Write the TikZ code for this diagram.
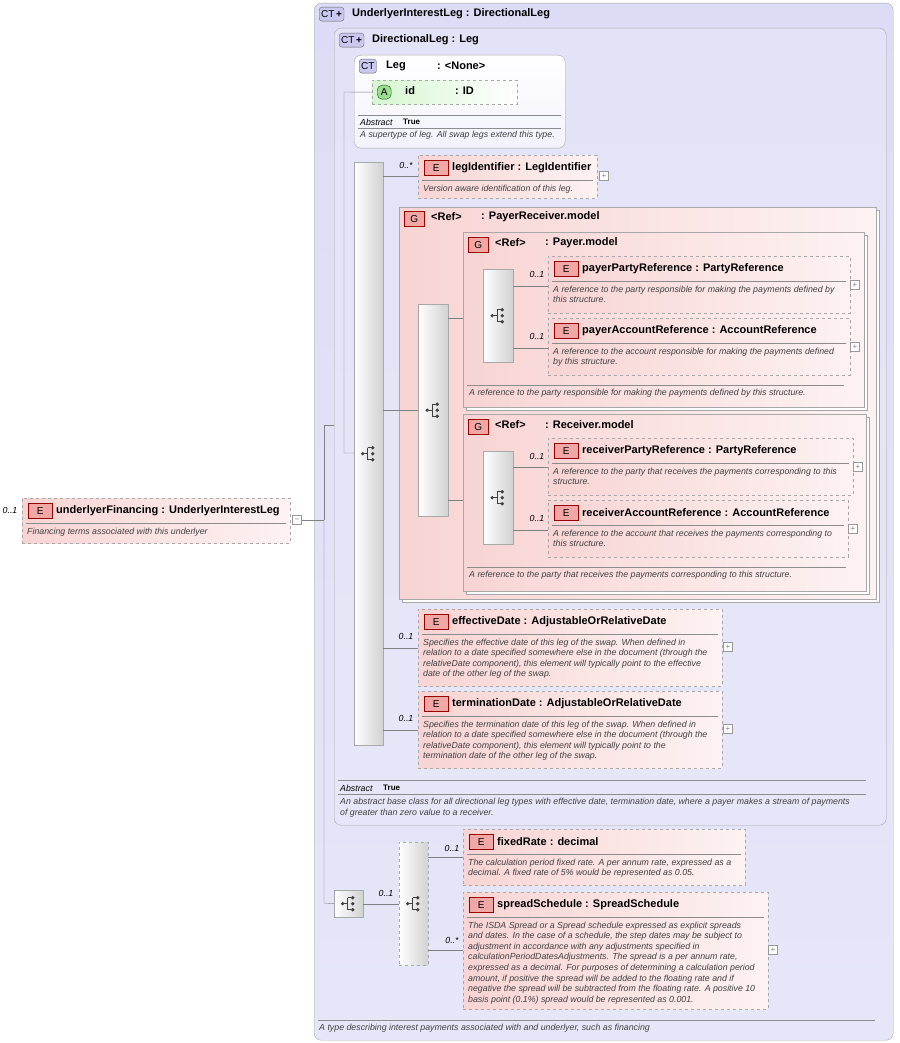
\documentclass[tikz,border=0pt]{standalone}
\usepackage{fontspec}
\setmainfont{Liberation Sans}
\usepackage{xcolor}
\usetikzlibrary{positioning}
\definecolor{ctfill}{HTML}{DCDCF6}
\definecolor{ctfillb}{HTML}{F2F2FC}
\definecolor{elfill}{HTML}{F8D4D4}
\definecolor{elfillb}{HTML}{FDF2F2}
\definecolor{badgered}{HTML}{F2A7A7}
\definecolor{frame}{HTML}{A8A8A8}
\definecolor{attfill}{HTML}{D6F6D0}
\definecolor{badgegreen}{HTML}{9EDC94}
\definecolor{ctbadge}{HTML}{C8C8F0}

% element box: name, x, y, width, height, title, description
\newcommand\elem[7]{%
  \node[ebox, minimum width=#4, minimum height=#5] (#1) at (#2,#3) {};
  \node[ebadge] at ([xshift=6pt,yshift=-5pt]#1.north west) {E};
  \node[etitle] at ([xshift=34pt,yshift=-13pt]#1.north west) {#6};
  \draw[sep] ([xshift=4pt,yshift=-25pt]#1.north west) -- ([xshift=-4pt,yshift=-25pt]#1.north east);
  \node[edesc] at ([xshift=5pt,yshift=-29.5pt]#1.north west) {#7};
}
% sequence icon
\newcommand\seqico[1]{%
  \fill[black!75] ([xshift=-6pt]#1) circle (1.8pt);
  \draw[black!75, line width=0.9pt] ([xshift=-6pt]#1) -- ([xshift=-1pt]#1)
    ([xshift=-1pt,yshift=6pt]#1) -- ([xshift=-1pt,yshift=-6pt]#1)
    ([xshift=-1pt,yshift=6pt]#1) -- ([xshift=3pt,yshift=6pt]#1)
    ([xshift=-1pt,yshift=-6pt]#1) -- ([xshift=3pt,yshift=-6pt]#1);
  \foreach \dy in {-6,0,6} \fill[black!75] ([xshift=4pt,yshift=\dy pt]#1) circle (1.9pt);
}
% plus/minus box
\newcommand\pmark[2]{\node[pmbox] at (#1) {#2};}

\begin{document}
\begin{tikzpicture}[x=1pt, y=-1pt,
    ctbox/.style={draw=frame, rounded corners=7pt, top color=ctfill, bottom color=ctfill!70!white,
        anchor=north west, inner sep=0pt},
    ebox/.style={draw=frame, dashed, left color=elfill, right color=elfillb, anchor=north west, inner sep=0pt},
    gbox/.style={draw=frame, left color=elfill, right color=elfillb, anchor=north west, inner sep=0pt},
    bar/.style={draw=frame, left color=white, right color=black!18, anchor=north west, inner sep=0pt},
    ebadge/.style={draw=red!60!black, fill=badgered, anchor=north west, minimum width=24pt,
        minimum height=15pt, inner sep=0pt, font=\fontsize{10}{10}\selectfont},
    gbadge/.style={ebadge, minimum width=20pt},
    ctbadgest/.style={draw=black!60, fill=ctbadge, rounded corners=3pt, anchor=north west, minimum height=14pt,
        inner sep=2pt, font=\fontsize{10}{10}\selectfont},
    etitle/.style={anchor=west, inner sep=0pt, font=\fontsize{11}{12}\selectfont\bfseries},
    edesc/.style={anchor=north west, inner sep=0pt, align=left, text=black!75,
        font=\fontsize{8.8}{10.6}\selectfont\itshape},
    sep/.style={draw=black!45, solid},
    card/.style={inner sep=0pt, font=\fontsize{8.8}{9}\selectfont\itshape},
    pmbox/.style={draw=black!40, fill=white, minimum size=9pt, inner sep=0pt, font=\fontsize{8}{8}\selectfont, text=black!50},
    link/.style={draw=black!50}
  ]
\useasboundingbox (0,0) rectangle (899,1043);

% UnderlyerInterestLeg
\node[ctbox, minimum width=579pt, minimum height=1037pt] (uil) at (314,3) {};
\node[ctbadgest] (uilb) at (319,7) {CT\,\textbf{+}};
\node[etitle] at (352,14) {UnderlyerInterestLeg : DirectionalLeg};
\draw[sep] (318,1020) -- (875,1020);
\node[edesc] at (319,1024) {A type describing interest payments associated with and underlyer, such as financing};

% DirectionalLeg
\node[ctbox, top color=ctfill!80!white, minimum width=552pt, minimum height=797pt] (dl) at (334,28) {};
\node[ctbadgest] at (339,33) {CT\,\textbf{+}};
\node[etitle] at (372,40) {DirectionalLeg : Leg};
\draw[sep] (338,780) -- (866,780);
\node[card, anchor=west] at (340,788) {Abstract};
\node[etitle, font=\fontsize{8}{8}\selectfont\bfseries] at (383,788) {True};
\draw[sep] (338,794) -- (866,794);
\node[edesc] at (340,798) {An abstract base class for all directional leg types with effective date, termination date, where a payer makes a stream of payments\\of greater than zero value to a receiver.};

% Leg
\node[ctbox, top color=white, bottom color=ctfillb, minimum width=211pt, minimum height=93pt] (leg) at (354,55) {};
\node[ctbadgest] at (359,59) {CT};
\node[etitle] at (386,66) {Leg};
\node[etitle] at (437,66) {: <None>};
\node[draw=frame, dashed, left color=attfill, right color=white, anchor=north west, minimum width=145pt,
    minimum height=24pt, inner sep=0pt] (id) at (372,80) {};
\node[ctbadgest, draw=green!40!black, fill=badgegreen, rounded corners=5pt] at (377,85) {\,A\,};
\node[etitle] at (405,91) {id};
\node[etitle] at (455,91) {: ID};
\draw[sep] (358,115) -- (561,115);
\node[card, anchor=west] at (360,122) {Abstract};
\node[etitle, font=\fontsize{8}{8}\selectfont\bfseries] at (403,122) {True};
\draw[sep] (358,128) -- (561,128);
\node[edesc] at (360,131) {A supertype of leg. All swap legs extend this type.};

% main sequence
\node[bar, minimum width=29pt, minimum height=583pt] (seq) at (354,162) {};
\seqico{seq.center}
\draw[link] (344,92) -- (id.west) (344,92) -- (344,453) -- (seq.west |- 344,453);

\elem{legid}{418}{155}{179}{43}{legIdentifier : LegIdentifier}{Version aware identification of this leg.}
\pmark{604,176}{+}
\node[card] at (406,165) {0..*};
\draw[link] (seq.east |- legid.west) -- (legid.west);

% PayerReceiver.model
\draw[draw=frame, fill=white] (402,210) rectangle (879,602);
\node[gbox, minimum width=477pt, minimum height=392pt] (prm) at (399,207) {};
\node[gbadge] at (404,211) {G};
\node[etitle] at (431,217) {<Ref>};
\node[etitle] at (481,217) {: PayerReceiver.model};
\node[bar, minimum width=30pt, minimum height=212pt] (choice) at (418,304) {};
\seqico{choice.center}
\draw[link] (seq.east |- choice.west) -- (prm.west |- choice.west);
\draw[link] (prm.west |- choice.west) -- (choice.west);

% Payer.model
\draw[draw=frame, fill=white] (466,235) rectangle (867,410);
\node[gbox, minimum width=401pt, minimum height=175pt] (pm) at (463,232) {};
\node[gbadge] at (468,237) {G};
\node[etitle] at (495,243) {<Ref>};
\node[etitle] at (545,243) {: Payer.model};
\node[bar, minimum width=30pt, minimum height=93pt] (pseq) at (483,269) {};
\seqico{pseq.center}
\draw[link] (choice.east |- 0,318) -- (pm.west |- 0,318);
\elem{ppr}{548}{256}{302}{57}{payerPartyReference : PartyReference}{A reference to the party responsible for making the payments defined by\\this structure.}
\pmark{855,285}{+}
\node[card] at (537,274) {0..1};
\elem{par}{548}{318}{302}{57}{payerAccountReference : AccountReference}{A reference to the account responsible for making the payments defined\\by this structure.}
\pmark{855,347}{+}
\node[card] at (537,336) {0..1};
\draw[link] (pseq.east |- 0,286) -- (ppr.west |- 0,286);
\draw[link] (pseq.east |- 0,348) -- (par.west |- 0,348);
\draw[sep] (467,385) -- (844,385);
\node[edesc] at (469,389) {A reference to the party responsible for making the payments defined by this structure.};

% Receiver.model
\draw[draw=frame, fill=white] (466,417) rectangle (869,594);
\node[gbox, minimum width=403pt, minimum height=177pt] (rm) at (463,414) {};
\node[gbadge] at (468,419) {G};
\node[etitle] at (495,425) {<Ref>};
\node[etitle] at (545,425) {: Receiver.model};
\node[bar, minimum width=30pt, minimum height=93pt] (rseq) at (483,451) {};
\seqico{rseq.center}
\draw[link] (choice.east |- 0,500) -- (rm.west |- 0,500);
\elem{rpr}{548}{438}{305}{57}{receiverPartyReference : PartyReference}{A reference to the party that receives the payments corresponding to this\\structure.}
\pmark{858,467}{+}
\node[card] at (537,456) {0..1};
\elem{rar}{548}{500}{300}{57}{receiverAccountReference : AccountReference}{A reference to the account that receives the payments corresponding to\\this structure.}
\pmark{853,529}{+}
\node[card] at (537,518) {0..1};
\draw[link] (rseq.east |- 0,467) -- (rpr.west |- 0,467);
\draw[link] (rseq.east |- 0,530) -- (rar.west |- 0,530);
\draw[sep] (467,567) -- (846,567);
\node[edesc] at (469,571) {A reference to the party that receives the payments corresponding to this structure.};

% dates
\elem{eff}{418}{609}{304}{77}{effectiveDate : AdjustableOrRelativeDate}{Specifies the effective date of this leg of the swap. When defined in\\relation to a date specified somewhere else in the document (through the\\relativeDate component), this element will typically point to the effective\\date of the other leg of the swap.}
\pmark{728,647}{+}
\node[card] at (406,636) {0..1};
\elem{term}{418}{691}{304}{77}{terminationDate : AdjustableOrRelativeDate}{Specifies the termination date of this leg of the swap. When defined in\\relation to a date specified somewhere else in the document (through the\\relativeDate component), this element will typically point to the\\termination date of the other leg of the swap.}
\pmark{728,729}{+}
\node[card] at (406,718) {0..1};
\draw[link] (seq.east |- eff.west) -- (eff.west);
\draw[link] (seq.east |- term.west) -- (term.west);

% rate sequence
\node[bar, minimum width=29pt, minimum height=27pt] (oseq) at (334,890) {};
\seqico{oseq.center}
\node[bar, dashed, minimum width=29pt, minimum height=123pt] (iseq) at (399,842) {};
\seqico{iseq.center}
\draw[link] (oseq.east) -- (iseq.west);
\node[card] at (386,893) {0..1};
\elem{fixed}{463}{829}{282}{56}{fixedRate : decimal}{The calculation period fixed rate. A per annum rate, expressed as a\\decimal. A fixed rate of 5\% would be represented as 0.05.}
\node[card] at (452,848) {0..1};
\elem{spread}{463}{892}{305}{117}{spreadSchedule : SpreadSchedule}{The ISDA Spread or a Spread schedule expressed as explicit spreads\\and dates. In the case of a schedule, the step dates may be subject to\\adjustment in accordance with any adjustments specified in\\calculationPeriodDatesAdjustments. The spread is a per annum rate,\\expressed as a decimal. For purposes of determining a calculation period\\amount, if positive the spread will be added to the floating rate and if\\negative the spread will be subtracted from the floating rate. A positive 10\\basis point (0.1\%) spread would be represented as 0.001.}
\pmark{773,950}{+}
\node[card] at (452,940) {0..*};
\draw[link] (iseq.east |- 0,857) -- (fixed.west |- 0,857);
\draw[link] (iseq.east |- 0,950) -- (spread.west |- 0,950);

% underlyerFinancing
\elem{uf}{22}{498}{268}{45}{underlyerFinancing : UnderlyerInterestLeg}{Financing terms associated with this underlyer}
\node[card] at (10,510) {0..1};
\node[pmbox] (minus) at (297,520) {--};
\coordinate (fork) at (324,520);
\draw[link] (minus.east) -- (fork) (fork) -- (324,425) -- (dl.west |- 0,425);
\draw[link] (fork) -- (324,903) -- (oseq.west);
\end{tikzpicture}
\end{document}
